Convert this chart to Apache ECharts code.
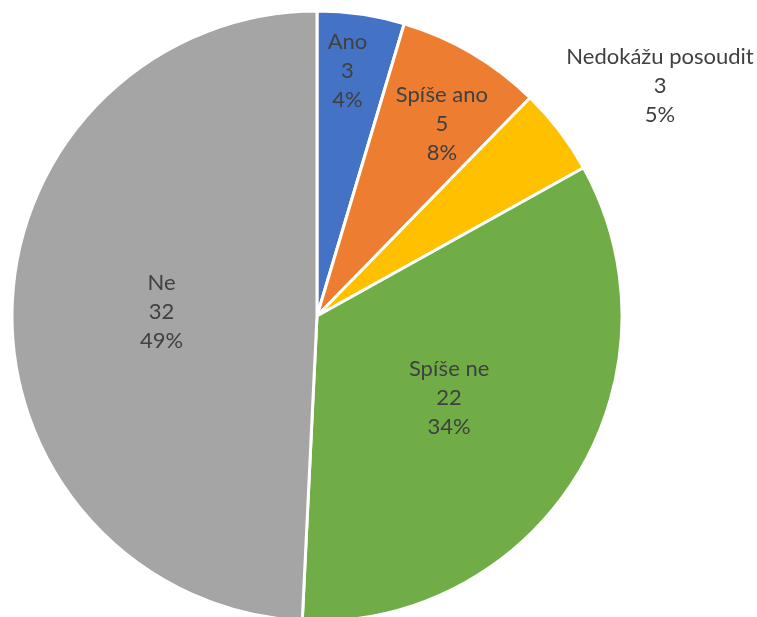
<!DOCTYPE html>
<html>
<head>
<meta charset="utf-8">
<script src="https://cdn.jsdelivr.net/npm/echarts@6/dist/echarts.min.js"></script>
<style>
  html, body { margin: 0; padding: 0; background: #fff; }
  #chart { width: 757px; height: 617px; }
</style>
</head>
<body>
<div id="chart"></div>
<script>
const categories = ["Ano", "Spíše ano", "Nedokážu posoudit", "Spíše ne", "Ne"];
const values = [3, 5, 3, 22, 32];
const percentLabels = ["4%", "8%", "5%", "34%", "49%"];
const colors = ["#4472C4", "#ED7D31", "#FFC000", "#70AD47", "#A5A5A5"];
// label nudges [dx, dy] so small slices read like the original
const labelNudge = [[8, -91], [46, -58], [48, -8], [0, 0], [0, 0]];

const chart = echarts.init(document.getElementById("chart"));
chart.setOption({
  animation: false,
  series: [
    {
      type: "pie",
      center: [317, 316],
      radius: [0, 305],
      startAngle: 90,
      clockwise: true,
      label: {
        position: "inside",
        color: "#404040",
        fontFamily: "Lato",
        fontSize: 22,
        lineHeight: 29,
        overflow: "none",
        formatter: (p) => `${p.name}\n${p.value}\n${percentLabels[p.dataIndex]}`,
      },
      labelLine: { show: false },
      itemStyle: { borderColor: "#fff", borderWidth: 3 },
      labelLayout: (p) => {
        const [dx, dy] = labelNudge[p.dataIndex];
        const out = { dx, dy };
        if (p.dataIndex === 2) out.align = "center";
        return out;
      },
      data: categories.map((name, i) => {
        const item = { name, value: values[i], itemStyle: { color: colors[i] } };
        if (i === 2) {
          item.label = { position: "outside", alignTo: "none", align: "center", overflow: "none", width: 240 };
          item.labelLine = { show: false, length: 60, length2: 0 };
        }
        return item;
      }),
    },
  ],
});
</script>
</body>
</html>
